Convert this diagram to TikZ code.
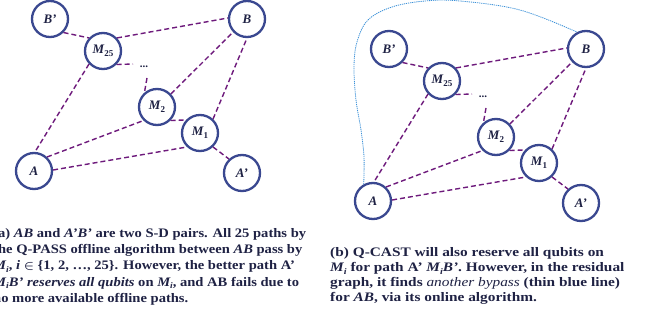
\documentclass[tikz,border=0pt]{standalone}
\usepackage{fontspec}
\setmainfont{Liberation Serif}
\definecolor{nodeblue}{HTML}{3A4890}
\definecolor{linkpurple}{HTML}{6E1A7C}
\definecolor{bypassblue}{HTML}{3A90D8}
\definecolor{textc}{HTML}{1F2244}
\newcommand\lsub[1]{\raisebox{-2.8pt}{\fontsize{9}{9}\selectfont\upshape #1}}
\newcommand\csub[1]{\raisebox{-2.4pt}{\fontsize{8.5}{8.5}\selectfont #1}}
\newcommand\drawpanel[1]{%
  \node[qnode] (#1Bp) at (50,19) {B'};
  \node[qnode] (#1M25) at (103,51) {M\lsub{25}};
  \node[qnode] (#1B) at (247,19) {B};
  \node[dotsnode] (#1dots) at (144,67) {...};
  \node[qnode] (#1M2) at (157,107) {M\lsub{2}};
  \node[qnode] (#1M1) at (200,133) {M\lsub{1}};
  \node[qnode] (#1A) at (34,171) {A};
  \node[qnode] (#1Ap) at (242,173) {A'};
  \coordinate (#1d1) at (133,64);
  \coordinate (#1d2) at (147,78);
  \draw[link] (#1Bp.-45) -- (#1M25.137);
  \draw[link] (#1M25.43) -- (#1B.177);
  \draw[link] (#1M25.-137) -- (#1A.87);
  \draw[link] (#1M2.43) -- (#1B.-137);
  \draw[link] (#1M1.47) -- (#1B.-90);
  \draw[link] (#1M2.-45) -- (#1M1.137);
  \draw[link] (#1A.47) -- (#1M2.-135);
  \draw[link] (#1A.3) -- (#1M1.-133);
  \draw[link] (#1M1.-47) -- (#1Ap.133);
  \draw[link] (#1M25.-45) -- (#1d1);
  \draw[link] (#1d2) -- (#1M2.131);
}
\begin{document}
\begin{tikzpicture}[x=1pt,y=-1pt,
  qnode/.style={circle, draw=nodeblue, line width=2.3pt, fill=white,
    minimum size=36pt, inner sep=0pt, text=textc,
    font=\fontsize{13}{13}\selectfont\bfseries\itshape},
  dotsnode/.style={inner sep=0pt, text=textc, font=\fontsize{11}{11}\selectfont\bfseries},
  link/.style={draw=linkpurple, line width=1.4pt, dash pattern=on 5pt off 3pt},
  bypass/.style={draw=bypassblue, line width=0.8pt, dash pattern=on 1.2pt off 0.9pt},
  capt/.style={anchor=base west, align=left, inner sep=0pt, text=textc, transform shape}]
\clip (0,0) rectangle (648,320);
\fill[white] (0,0) rectangle (648,320);
\begin{scope}
  \drawpanel{l}
\end{scope}
\begin{scope}[shift={(339,30)}]
  \drawpanel{r}
\end{scope}
\draw[bypass] plot[smooth, tension=0.6] coordinates {(rA.119) (364,157) (361,130) (356,100) (354,67) (357,42) (368,20) (392,7) (425,1) (460,1) (520,10) (rB.118)};
\node[capt, xscale=1.12, font=\fontsize{13}{16.3}\selectfont\bfseries] (capa) at (-7,302.5) {(a) \textit{AB} and \textit{A’B’} are two S-D pairs. All 25 paths by\\
the Q-PASS offline algorithm between \textit{AB} pass by\\
\textit{M\csub{i}}, \textit{i} {\boldmath$\in$} \{1, 2, …, 25\}. However, the better path A’\\
\textit{M\csub{i}B’ reserves all qubits} on \textit{M\csub{i}}, and AB fails due to\\
no more available offline paths.};
\node[capt, xscale=1.18, font=\fontsize{13}{15}\selectfont\bfseries] (capb) at (330,302) {(b) Q-CAST will also reserve all qubits on\\
\textit{M\csub{i}} for path A’ \textit{M\csub{i}B’}. However, in the residual\\
graph, it finds {\mdseries\itshape another bypass} (thin blue line)\\
for \textit{AB}, via its online algorithm.};
\end{tikzpicture}
\end{document}
